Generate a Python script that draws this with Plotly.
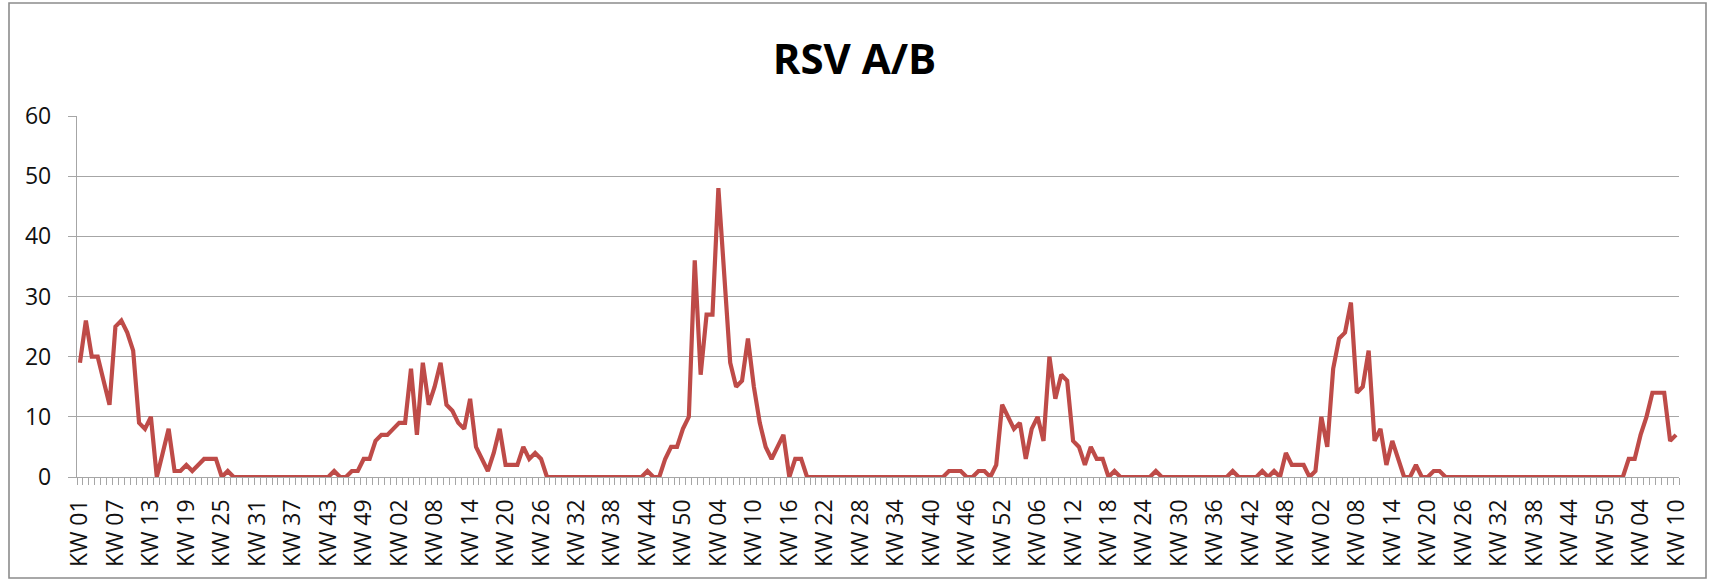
import plotly.graph_objects as go

# Weekly RSV A/B counts, one list per season-year (KW 01 ... last week)
year1 = [19, 26, 20, 20, 16, 12, 25, 26, 24, 21, 9, 8, 10, 0, 4, 8, 1, 1, 2, 1,
         2, 3, 3, 3, 0, 1, 0, 0, 0, 0, 0, 0, 0, 0, 0, 0, 0, 0, 0, 0,
         0, 0, 0, 1, 0, 0, 1, 1, 3, 3, 6, 7, 7]  # 53 weeks
year2 = [8, 9, 9, 18, 7, 19, 12, 15, 19, 12, 11, 9, 8, 13, 5, 3, 1, 4, 8, 2,
         2, 2, 5, 3, 4, 3, 0, 0, 0, 0, 0, 0, 0, 0, 0, 0, 0, 0, 0, 0,
         0, 0, 0, 1, 0, 0, 3, 5, 5, 8, 10, 36]
year3 = [17, 27, 27, 48, 34, 19, 15, 16, 23, 15, 9, 5, 3, 5, 7, 0, 3, 3, 0, 0,
         0, 0, 0, 0, 0, 0, 0, 0, 0, 0, 0, 0, 0, 0, 0, 0, 0, 0, 0, 0,
         0, 0, 1, 1, 1, 0, 0, 1, 1, 0, 2, 12]
year4 = [10, 8, 9, 3, 8, 10, 6, 20, 13, 17, 16, 6, 5, 2, 5, 3, 3, 0, 1, 0,
         0, 0, 0, 0, 0, 1, 0, 0, 0, 0, 0, 0, 0, 0, 0, 0, 0, 0, 1, 0,
         0, 0, 0, 1, 0, 1, 0, 4, 2, 2, 2, 0]
year5 = [1, 10, 5, 18, 23, 24, 29, 14, 15, 21, 6, 8, 2, 6, 3, 0, 0, 2, 0, 0,
         1, 1, 0, 0, 0, 0, 0, 0, 0, 0, 0, 0, 0, 0, 0, 0, 0, 0, 0, 0,
         0, 0, 0, 0, 0, 0, 0, 0, 0, 0, 0, 0]
year6 = [0, 3, 3, 7, 10, 14, 14, 14, 6, 7]

years = [year1, year2, year3, year4, year5, year6]
week_labels = []
values = []
for yr in years:
    for w, v in enumerate(yr, start=1):
        week_labels.append(f"KW {w:02d}")
        values.append(v)

x_idx = list(range(len(values)))
tick_step = 6
tickvals = x_idx[::tick_step]
ticktext = week_labels[::tick_step]

FONT = "Open Sans"
GRAY = "#A6A6A6"

fig = go.Figure()
fig.add_trace(go.Scatter(
    x=x_idx, y=values, mode="lines",
    line=dict(color="#BE4B48", width=4.2),
    customdata=week_labels,
    hovertemplate="%{customdata}: %{y}<extra></extra>",
    showlegend=False,
))

W, H = 1709, 582
L, R, T, B = 77, 30, 116, 105
fig.update_layout(
    width=W, height=H,
    margin=dict(l=L, r=R, t=T, b=B, autoexpand=False),
    paper_bgcolor="white", plot_bgcolor="white",
    font=dict(family=FONT, color="#111111"),
    title=dict(text="<b>RSV A/B</b>", x=0.5, xanchor="center",
               y=1 - 59 / H, yanchor="middle", yref="container",
               font=dict(family=FONT, size=42, color="#000000")),
)
fig.update_xaxes(
    range=[-0.5, len(values) - 0.5], automargin=False,
    tickmode="array", tickvals=tickvals, ticktext=ticktext,
    tickangle=-90, ticks="", ticklabelstandoff=12,
    tickfont=dict(family=FONT, size=23, color="#111111"),
    showgrid=False, zeroline=False,
    showline=True, linecolor=GRAY, linewidth=1.3,
    minor=dict(ticks="outside", ticklen=7, tickwidth=1.2, tickcolor=GRAY,
               tickmode="linear", tick0=-0.5, dtick=1, showgrid=False),
)
fig.update_yaxes(
    range=[0, 60], tickmode="linear", tick0=0, dtick=10, automargin=False,
    ticks="outside", ticklen=8, tickwidth=1.3, tickcolor=GRAY,
    ticklabelstandoff=12,
    tickfont=dict(family=FONT, size=23, color="#111111"),
    showgrid=True, gridcolor=GRAY, gridwidth=1.3,
    zeroline=False, showline=True, linecolor=GRAY, linewidth=1.3,
)

# chart-area border
pw = W - L - R
ph = H - T - B
def px_x(p):
    return (p - L) / pw
def px_y(p):
    return (H - B - p) / ph
fig.add_shape(type="rect", xref="paper", yref="paper",
              x0=px_x(9), x1=px_x(1706), y0=px_y(578), y1=px_y(3),
              line=dict(color="#8C8C8C", width=1.6), fillcolor="rgba(0,0,0,0)",
              layer="below")

fig.write_html(
    "out.html",
    config={"displayModeBar": False},
    post_script="document.body.style.margin='0';document.body.style.overflow='hidden';",
)
